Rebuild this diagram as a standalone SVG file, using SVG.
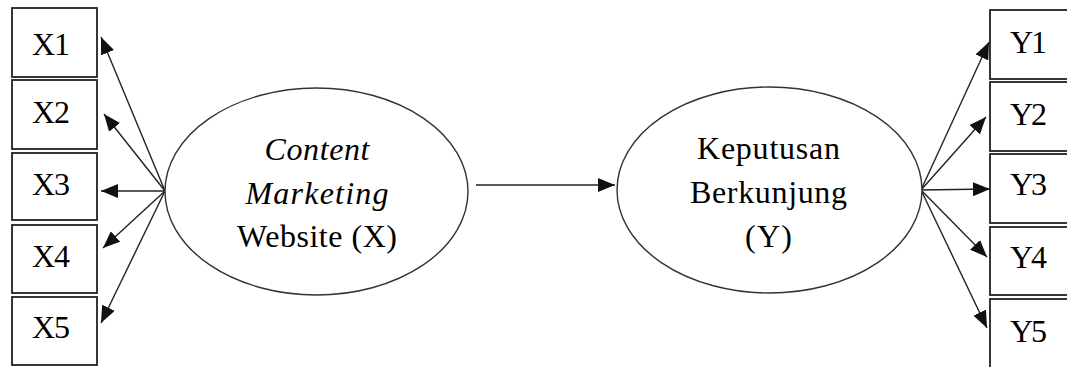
<svg xmlns="http://www.w3.org/2000/svg" width="1067" height="367" viewBox="0 0 1067 367">
<style>
.box{fill:#fff;stroke:#222;stroke-width:1.8}
.ell{fill:#fff;stroke:#333;stroke-width:1.4}
.lbl{font-family:"Liberation Serif","Times New Roman",serif;font-size:32px;fill:#000}
.it{font-style:italic}
.mid{text-anchor:middle}
.con{stroke:#222;stroke-width:1.4;fill:none;marker-end:url(#ah)}
</style>
<defs>
<marker id="ah" markerUnits="userSpaceOnUse" markerWidth="17" markerHeight="14" refX="17" refY="7" orient="auto">
<path d="M0,0 L17,7 L0,14 z" fill="#111"/>
</marker>
</defs>
<rect width="1067" height="367" fill="#fff"/>
<g id="connectors">
<line class="con" x1="165" y1="191" x2="101" y2="37"/>
<line class="con" x1="165" y1="191" x2="104" y2="114"/>
<line class="con" x1="165" y1="191" x2="101" y2="191"/>
<line class="con" x1="165" y1="191" x2="103" y2="248"/>
<line class="con" x1="165" y1="191" x2="101" y2="323"/>
<line class="con" x1="476" y1="185" x2="615" y2="185"/>
<line class="con" x1="921" y1="190" x2="989" y2="42"/>
<line class="con" x1="921" y1="190" x2="986" y2="117"/>
<line class="con" x1="921" y1="190" x2="990" y2="189"/>
<line class="con" x1="921" y1="190" x2="987" y2="257"/>
<line class="con" x1="921" y1="190" x2="987" y2="328"/>
</g>
<g id="X1"><rect class="box" x="12" y="8" width="85" height="69"/><text class="lbl" x="32" y="55" textLength="38" lengthAdjust="spacing">X1</text></g>
<g id="X2"><rect class="box" x="12" y="80" width="85" height="69"/><text class="lbl" x="32" y="123" textLength="38" lengthAdjust="spacing">X2</text></g>
<g id="X3"><rect class="box" x="12" y="153" width="85" height="67"/><text class="lbl" x="32" y="195" textLength="38" lengthAdjust="spacing">X3</text></g>
<g id="X4"><rect class="box" x="12" y="225" width="85" height="68"/><text class="lbl" x="32" y="267" textLength="38" lengthAdjust="spacing">X4</text></g>
<g id="X5"><rect class="box" x="12" y="297" width="85" height="68"/><text class="lbl" x="32" y="338" textLength="38" lengthAdjust="spacing">X5</text></g>
<g id="Y1"><rect class="box" x="990" y="10" width="90" height="69"/><text class="lbl" x="1010" y="53" textLength="37" lengthAdjust="spacing">Y1</text></g>
<g id="Y2"><rect class="box" x="990" y="82" width="90" height="69"/><text class="lbl" x="1010" y="125" textLength="37" lengthAdjust="spacing">Y2</text></g>
<g id="Y3"><rect class="box" x="990" y="154" width="90" height="69"/><text class="lbl" x="1010" y="195" textLength="37" lengthAdjust="spacing">Y3</text></g>
<g id="Y4"><rect class="box" x="990" y="227" width="90" height="68"/><text class="lbl" x="1010" y="268" textLength="37" lengthAdjust="spacing">Y4</text></g>
<g id="Y5"><rect class="box" x="990" y="299" width="90" height="70"/><text class="lbl" x="1010" y="342" textLength="37" lengthAdjust="spacing">Y5</text></g>
<g id="X">
<ellipse class="ell" cx="316.5" cy="191.5" rx="151.5" ry="103.5"/>
<text class="lbl it mid" x="317" y="160" textLength="105" lengthAdjust="spacing">Content</text>
<text class="lbl it mid" x="317" y="204" textLength="143" lengthAdjust="spacing">Marketing</text>
<text class="lbl mid" x="317" y="247" textLength="160" lengthAdjust="spacing">Website (X)</text>
</g>
<g id="Y">
<ellipse class="ell" cx="769.5" cy="190" rx="152.5" ry="103"/>
<text class="lbl mid" x="768.5" y="159" textLength="143" lengthAdjust="spacing">Keputusan</text>
<text class="lbl mid" x="768.5" y="203" textLength="157" lengthAdjust="spacing">Berkunjung</text>
<text class="lbl mid" x="768.5" y="247" textLength="47" lengthAdjust="spacing">(Y)</text>
</g>
</svg>
